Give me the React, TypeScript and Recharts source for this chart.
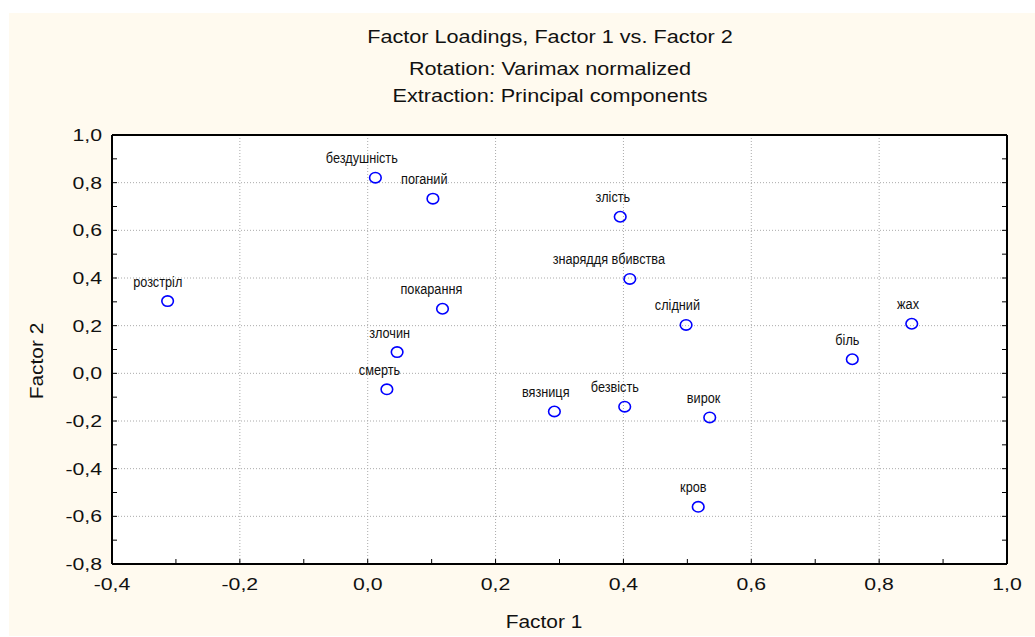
import {
  ScatterChart,
  Scatter,
  XAxis,
  YAxis,
  CartesianGrid,
} from "recharts";

// Factor loadings
const terms = [
  "бездушність",
  "поганий",
  "розстріл",
  "покарання",
  "злочин",
  "смерть",
  "злість",
  "знаряддя вбивства",
  "слідний",
  "жах",
  "біль",
  "вязниця",
  "безвість",
  "вирок",
  "кров",
];
const factor1 = [
  0.012, 0.102, -0.313, 0.117, 0.046, 0.03, 0.395, 0.41, 0.498, 0.851, 0.758,
  0.292, 0.402, 0.535, 0.517,
];
const factor2 = [
  0.821, 0.733, 0.303, 0.271, 0.089, -0.067, 0.657, 0.396, 0.203, 0.208,
  0.059, -0.16, -0.14, -0.185, -0.56,
];

const titleLines = [
  "Factor Loadings, Factor 1 vs. Factor 2",
  "Rotation: Varimax normalized",
  "Extraction: Principal components",
];

const xMajor = [-0.4, -0.2, 0, 0.2, 0.4, 0.6, 0.8, 1.0];
const xMinor = [
  -0.4, -0.3, -0.2, -0.1, 0, 0.1, 0.2, 0.3, 0.4, 0.5, 0.6, 0.7, 0.8, 0.9, 1.0,
];
const yMajor = [-0.8, -0.6, -0.4, -0.2, 0, 0.2, 0.4, 0.6, 0.8, 1.0];
const yMinor = [
  -0.8, -0.7, -0.6, -0.5, -0.4, -0.3, -0.2, -0.1, 0, 0.1, 0.2, 0.3, 0.4, 0.5,
  0.6, 0.7, 0.8, 0.9, 1.0,
];

const data = terms.map((name, i) => ({
  name,
  x: factor1[i],
  y: factor2[i],
}));

const FONT = '"Liberation Sans", Arial, sans-serif';
const TICK_LEN = 5;

const isMajor = (list: number[], v: number) =>
  list.some((m) => Math.abs(m - v) < 1e-6);
const fmt = (v: number) => v.toFixed(1).replace(".", ",");

function BottomTick({ x, y, payload }: any) {
  const v = payload.value;
  return (
    <g>
      <line x1={x} y1={y} x2={x} y2={y - TICK_LEN} stroke="#000" />
      {isMajor(xMajor, v) && (
        <text
          transform={`translate(${x},${y + 26}) scale(1.25,1)`}
          textAnchor="middle"
          fontSize={17}
          fontFamily={FONT}
          fill="#111"
        >
          {fmt(v)}
        </text>
      )}
    </g>
  );
}

function LeftTick({ x, y, payload }: any) {
  const v = payload.value;
  return (
    <g>
      <line x1={x} y1={y} x2={x + TICK_LEN} y2={y} stroke="#000" />
      {isMajor(yMajor, v) && (
        <text
          transform={`translate(${x - 10},${y + 6}) scale(1.25,1)`}
          textAnchor="end"
          fontSize={17}
          fontFamily={FONT}
          fill="#111"
        >
          {fmt(v)}
        </text>
      )}
    </g>
  );
}

function TopTick({ x, y }: any) {
  return <line x1={x} y1={y} x2={x} y2={y + TICK_LEN} stroke="#000" />;
}

function RightTick({ x, y }: any) {
  return <line x1={x} y1={y} x2={x - TICK_LEN} y2={y} stroke="#000" />;
}

// open blue circle with its term written above
function PointShape({ cx, cy, payload }: any) {
  const w = payload.name.length * 6.5;
  return (
    <g>
      <ellipse
        cx={cx}
        cy={cy}
        rx={5.8}
        ry={5.2}
        fill="none"
        stroke="#0000ff"
        strokeWidth={1.6}
      />
      <text
        transform={`translate(${cx - 0.19 * w},${cy - 14.5}) scale(0.82,1)`}
        textAnchor="middle"
        fontSize={15.5}
        fontFamily={FONT}
        fill="#111"
      >
        {payload.name}
      </text>
    </g>
  );
}

export default function App() {
  return (
    <div
      style={{
        position: "absolute",
        left: 9,
        top: 13,
        width: 1026,
        height: 623,
        background: "#fffaef",
      }}
    >
      <ScatterChart
        width={1026}
        height={623}
        margin={{ top: 112, right: 18, bottom: 12, left: 23 }}
      >
        <CartesianGrid
          fill="#ffffff"
          stroke="#aaaaaa"
          strokeDasharray="1 2"
          verticalValues={xMajor}
          horizontalValues={yMajor}
        />
        <XAxis
          type="number"
          dataKey="x"
          domain={[-0.4, 1.0]}
          allowDataOverflow
          ticks={xMinor}
          interval={0}
          height={60}
          tickSize={0}
          tickMargin={0}
          tickLine={false}
          axisLine={{ stroke: "#000", strokeWidth: 2 }}
          tick={<BottomTick />}
        />
        <XAxis
          xAxisId="top"
          orientation="top"
          type="number"
          domain={[-0.4, 1.0]}
          allowDataOverflow
          ticks={xMinor}
          interval={0}
          height={10}
          tickSize={0}
          tickMargin={0}
          tickLine={false}
          axisLine={{ stroke: "#000", strokeWidth: 2 }}
          tick={<TopTick />}
        />
        <YAxis
          type="number"
          dataKey="y"
          domain={[-0.8, 1.0]}
          allowDataOverflow
          ticks={yMinor}
          interval={0}
          width={80}
          tickSize={0}
          tickMargin={0}
          tickLine={false}
          axisLine={{ stroke: "#000", strokeWidth: 2 }}
          tick={<LeftTick />}
        />
        <YAxis
          yAxisId="right"
          orientation="right"
          type="number"
          domain={[-0.8, 1.0]}
          allowDataOverflow
          ticks={yMinor}
          interval={0}
          width={10}
          tickSize={0}
          tickMargin={0}
          tickLine={false}
          axisLine={{ stroke: "#000", strokeWidth: 2 }}
          tick={<RightTick />}
        />
        <Scatter data={data} shape={<PointShape />} isAnimationActive={false} />
        {titleLines.map((line, i) => (
          <text
            key={line}
            transform={`translate(541,${[30, 61.5, 89][i]}) scale(1.17,1)`}
            textAnchor="middle"
            fontSize={18.5}
            fontFamily={FONT}
            fill="#111"
          >
            {line}
          </text>
        ))}
        <text
          transform="translate(535,615) scale(1.13,1)"
          textAnchor="middle"
          fontSize={18.5}
          fontFamily={FONT}
          fill="#111"
        >
          Factor 1
        </text>
        <text
          transform="translate(34,348) rotate(-90) scale(1.13,1)"
          textAnchor="middle"
          fontSize={18.5}
          fontFamily={FONT}
          fill="#111"
        >
          Factor 2
        </text>
      </ScatterChart>
    </div>
  );
}
